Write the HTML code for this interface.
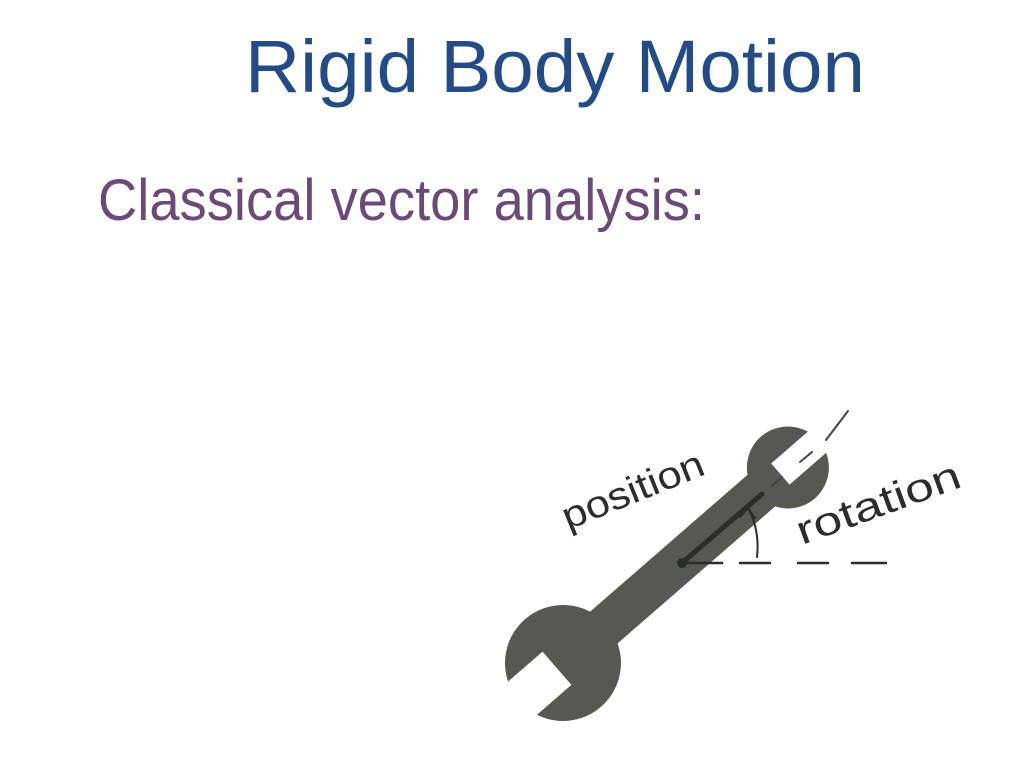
<!DOCTYPE html>
<html><head><meta charset="utf-8"><style>
html,body{margin:0;padding:0;background:#fff;}
svg{display:block;}
text{font-family:"Liberation Sans",sans-serif;}
</style></head><body>
<svg width="1024" height="768" viewBox="0 0 1024 768" xmlns="http://www.w3.org/2000/svg">
<rect width="1024" height="768" fill="#fff"/>
<text x="245" y="92" font-size="74" fill="#244b85" textLength="620" lengthAdjust="spacingAndGlyphs">Rigid Body Motion</text>
<text x="98" y="220" font-size="58" fill="#6c4a78" textLength="607" lengthAdjust="spacingAndGlyphs">Classical vector analysis:</text>

<g transform="translate(563,663) rotate(-41)" fill="#575853">
  <rect x="0" y="-21" width="298" height="42"/>
  <circle cx="0" cy="0" r="58"/>
  <circle cx="298" cy="0" r="41"/>
</g>
<g transform="translate(563,663) rotate(-41)" fill="#fff">
  <rect x="-70" y="-22" width="62" height="44"/>
  <rect x="288" y="-14" width="60" height="28"/>
</g>

<g stroke="#2a2d2c" stroke-width="3" fill="none" stroke-linecap="round">
  <line x1="682" y1="563" x2="762" y2="494" stroke-width="5"/>
  <line x1="688" y1="563" x2="722" y2="563" stroke-width="2.5"/>
  <path d="M740 563 H770 M798 563 H828 M852 563 H886" stroke-width="2.5"/>
  <path d="M772 486 L782 477 M800 462 L812 452 M826 440 L848 411" stroke-width="2" stroke="#444"/>
  <path d="M757 557 Q760 530 748 508" stroke-width="2"/>
  <path d="M740 517 L748 508 L755 518" stroke-width="2"/>
</g>
<circle cx="682" cy="563" r="5" fill="#2a2d2c"/>

<text transform="translate(568,530) rotate(-22)" font-size="38" fill="#2a2d2c" textLength="150" lengthAdjust="spacingAndGlyphs">position</text>
<text transform="translate(802,545) rotate(-20)" font-size="40" fill="#2a2d2c" textLength="172" lengthAdjust="spacingAndGlyphs">rotation</text>
</svg>
</body></html>
